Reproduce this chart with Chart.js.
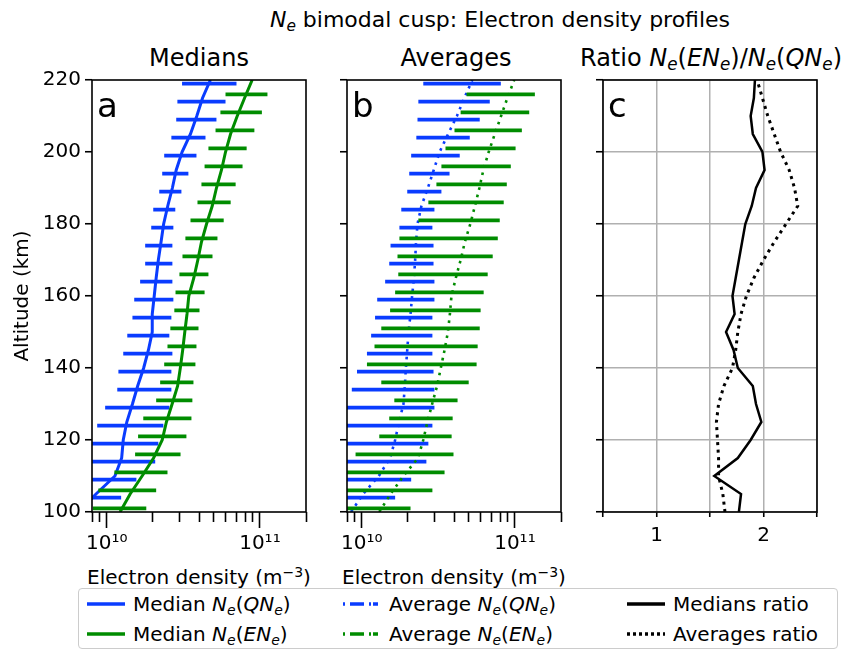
<!DOCTYPE html>
<html>
<head>
<meta charset="utf-8">
<script src="https://cdn.jsdelivr.net/npm/chart.js@4/dist/chart.umd.min.js"></script>
<style>
  body { margin: 0; background: #fff; font-family: "DejaVu Sans", sans-serif; color: #000; }
  #fig { position: relative; width: 849px; height: 654px; overflow: hidden; }
  canvas { position: absolute; }
  .txt { position: absolute; white-space: nowrap; text-align: center; }
  .ptitle { font-size: 24px; line-height: 28px; top: 44px; }
  sub { font-size: 0.7em; vertical-align: -0.25em; line-height: 0; }
  sup { font-size: 0.7em; vertical-align: 0.5em; line-height: 0; }
  #legend { position: absolute; left: 78px; top: 588px; width: 760px; height: 61px;
            border: 1px solid #ccc; border-radius: 4px; background: rgba(255,255,255,0.8); box-sizing: border-box; }
  .item { position: absolute; height: 24px; display: flex; align-items: center; font-size: 20px; white-space: nowrap; }
  .item svg { margin-right: 8px; }
</style>
</head>
<body>
<div id="fig">
  <div class="txt" style="left:500px;top:8px;transform:translateX(-50%);font-size:22px;line-height:24px;"><i>N<sub>e</sub></i> bimodal cusp: Electron density profiles</div>
  <div class="txt ptitle" style="left:199px;transform:translateX(-50%);">Medians</div>
  <div class="txt ptitle" style="left:456px;transform:translateX(-50%);">Averages</div>
  <div class="txt ptitle" style="left:711px;transform:translateX(-50%);">Ratio <i>N<sub>e</sub></i>(<i>EN<sub>e</sub></i>)/<i>N<sub>e</sub></i>(<i>QN<sub>e</sub></i>)</div>

  <canvas id="panelA" width="320" height="510" style="left:0;top:50px;"></canvas>
  <canvas id="panelB" width="260" height="510" style="left:320px;top:50px;"></canvas>
  <canvas id="panelC" width="269" height="510" style="left:580px;top:50px;"></canvas>

  <div class="txt" style="left:199px;top:565px;transform:translateX(-50%);font-size:20px;line-height:24px;">Electron density (m<sup>−3</sup>)</div>
  <div class="txt" style="left:454px;top:565px;transform:translateX(-50%);font-size:20px;line-height:24px;">Electron density (m<sup>−3</sup>)</div>

  <div id="legend"></div>
</div>

<script>
// altitude grid of the profiles (km)
const altitude = [100, 105, 110, 115, 120, 125, 130, 135, 140, 145, 150, 155, 160,
                  165, 170, 175, 180, 185, 190, 195, 200, 205, 210, 215, 220];
// altitudes where the spread bars are drawn (offset per population)
const barAltQN = [104, 109, 114, 119, 124, 129, 134, 139, 144, 149, 154, 159,
                  164, 169, 174, 179, 184, 189, 194, 199, 204, 209, 214, 219];
const barAltEN = [101, 106, 111, 116, 121, 126, 131, 136, 141, 146, 151, 156,
                  161, 166, 171, 176, 181, 186, 191, 196, 201, 206, 211, 216];

// medians (m^-3)
const medianQN = [6.5e9, 8.5e9, 1.13e10, 1.25e10, 1.28e10, 1.35e10, 1.47e10, 1.59e10, 1.74e10, 1.87e10,
                  1.98e10, 1.98e10, 2.04e10, 2.10e10, 2.17e10, 2.26e10, 2.35e10, 2.50e10, 2.68e10, 2.84e10,
                  3.10e10, 3.52e10, 3.87e10, 4.22e10, 4.75e10];
const medianEN = [1.22e10, 1.42e10, 1.70e10, 2.02e10, 2.30e10, 2.45e10, 2.67e10, 2.90e10, 3.02e10, 3.13e10,
                  3.23e10, 3.34e10, 3.43e10, 3.70e10, 3.93e10, 4.15e10, 4.48e10, 4.88e10, 5.20e10, 5.61e10,
                  5.96e10, 6.43e10, 7.11e10, 7.94e10, 8.9e10];
const medianQNLow  = [5e9, 5e9, 5e9, 6e9, 8.65e9, 9.75e9, 1.17e10, 1.19e10, 1.28e10, 1.36e10, 1.47e10, 1.51e10,
                      1.65e10, 1.78e10, 1.78e10, 1.95e10, 2.01e10, 2.20e10, 2.30e10, 2.37e10, 2.64e10, 2.84e10, 2.89e10, 3.10e10];
const medianQNHigh = [1.24e10, 1.56e10, 2.07e10, 2.17e10, 2.34e10, 2.56e10, 2.64e10, 2.64e10, 2.68e10, 2.56e10, 2.64e10, 2.72e10,
                      2.68e10, 2.68e10, 2.68e10, 2.72e10, 2.80e10, 3.07e10, 3.41e10, 3.85e10, 4.41e10, 5.20e10, 5.96e10, 7.03e10];
const medianENLow  = [8.1e9, 8.8e9, 1.12e10, 1.53e10, 1.60e10, 1.73e10, 2.10e10, 2.23e10, 2.37e10, 2.49e10, 2.60e10, 2.76e10,
                      2.81e10, 2.98e10, 3.12e10, 3.26e10, 3.52e10, 3.91e10, 4.15e10, 4.35e10, 4.61e10, 5.13e10, 5.52e10, 5.96e10];
const medianENHigh = [1.81e10, 2.10e10, 2.49e10, 3.03e10, 3.31e10, 3.57e10, 3.62e10, 3.68e10, 3.79e10, 3.85e10, 3.97e10, 4.03e10,
                      4.35e10, 4.61e10, 4.90e10, 5.28e10, 5.80e10, 6.44e10, 6.94e10, 7.7e10, 8.19e10, 9.2e10, 1.03e11, 1.12e11];

// averages (m^-3)
const averageQN = [8.5e9, 1.02e10, 1.29e10, 1.53e10, 1.65e10, 1.75e10, 1.87e10, 1.91e10, 1.94e10, 1.98e10,
                   2.02e10, 2.08e10, 2.13e10, 2.19e10, 2.23e10, 2.26e10, 2.31e10, 2.45e10, 2.70e10, 2.95e10,
                   3.22e10, 3.66e10, 4.18e10, 4.67e10, 5.27e10];
const averageEN = [1.30e10, 1.54e10, 1.87e10, 2.33e10, 2.52e10, 2.68e10, 2.88e10, 3.10e10, 3.28e10, 3.47e10,
                   3.65e10, 3.76e10, 3.85e10, 4.11e10, 4.42e10, 4.71e10, 5.11e10, 5.48e10, 5.86e10, 6.22e10,
                   6.74e10, 7.39e10, 8.12e10, 8.93e10, 9.9e10];
const averageQNLow  = [5e9, 5e9, 5e9, 5e9, 5e9, 6e9, 8.6e9, 9.3e9, 1.08e10, 1.15e10, 1.22e10, 1.26e10,
                       1.42e10, 1.51e10, 1.54e10, 1.76e10, 1.81e10, 1.98e10, 2.04e10, 2.10e10, 2.27e10, 2.31e10, 2.34e10, 2.52e10];
const averageQNHigh = [1.65e10, 2.10e10, 2.64e10, 2.72e10, 2.89e10, 2.98e10, 2.98e10, 2.94e10, 2.89e10, 2.89e10, 2.89e10, 2.98e10,
                       2.98e10, 2.94e10, 2.94e10, 2.89e10, 2.98e10, 3.31e10, 3.74e10, 4.36e10, 5.07e10, 5.89e10, 6.85e10, 8.09e10];
const averageENLow  = [7.5e9, 5e9, 5e9, 9.1e9, 1.30e10, 1.51e10, 1.63e10, 1.34e10, 1.08e10, 1.21e10, 1.34e10, 1.53e10,
                       1.65e10, 1.73e10, 1.71e10, 1.76e10, 2.34e10, 2.72e10, 3.07e10, 3.31e10, 3.52e10, 4.03e10, 4.42e10, 4.83e10];
const averageENHigh = [2.08e10, 2.89e10, 3.47e10, 3.97e10, 3.86e10, 3.92e10, 4.22e10, 4.99e10, 5.62e10, 5.71e10, 5.89e10, 5.97e10,
                       6.25e10, 6.64e10, 7.16e10, 7.73e10, 7.96e10, 8.45e10, 8.85e10, 9.4e10, 1.01e11, 1.11e11, 1.24e11, 1.35e11];

// ratio EN / QN
const ratioMedians  = [1.77, 1.79, 1.54, 1.76, 1.88, 1.98, 1.93, 1.90, 1.76, 1.72, 1.65, 1.73, 1.71,
                       1.74, 1.77, 1.80, 1.83, 1.89, 1.93, 2.01, 1.99, 1.90, 1.88, 1.91, 1.92];
const ratioAverages = [1.64, 1.62, 1.58, 1.58, 1.57, 1.56, 1.58, 1.63, 1.71, 1.74, 1.76, 1.79, 1.84,
                       1.91, 2.00, 2.10, 2.21, 2.32, 2.29, 2.24, 2.16, 2.10, 2.04, 1.99, 1.94];

// axis ticks
const densityTicks = [8e9, 9e9, 1e10, 2e10, 3e10, 4e10, 5e10, 6e10, 7e10, 8e10, 9e10, 1e11, 2e11];
const densityLabels = { 1e10: '10¹⁰', 1e11: '10¹¹' };
const altitudeTicks = [100, 120, 140, 160, 180, 200, 220];
const ratioTicks = [0.5, 1, 1.5, 2, 2.5];
const ratioLabels = { 1: '1', 2: '2' };

const BLUE = '#0a3cff';
const GREEN = '#008c00';

Chart.defaults.font.family = '"DejaVu Sans"';
Chart.defaults.font.size = 20;
Chart.defaults.color = '#000';

function profile(values) {
  return values.map((v, i) => ({ x: v, y: altitude[i] }));
}
function spread(low, high, alts) {
  const pts = [];
  alts.forEach((a, i) => { pts.push({ x: low[i], y: a }, { x: high[i], y: a }, { x: null, y: null }); });
  return pts;
}
function line(data, color, width, dash) {
  return { data, showLine: true, borderColor: color, borderWidth: width, borderDash: dash || [],
           pointRadius: 0, clip: 0, spanGaps: false, borderCapStyle: 'butt', tension: 0 };
}

const framePlugin = {
  id: 'panelFrame',
  afterDatasetsDraw(chart, args, opts) {
    const { ctx, chartArea: a } = chart;
    ctx.save();
    ctx.strokeStyle = '#000';
    ctx.lineWidth = 1.6;
    ctx.strokeRect(a.left, a.top, a.right - a.left, a.bottom - a.top);
    ctx.fillStyle = '#000';
    ctx.font = '34px "DejaVu Sans"';
    ctx.fillText(opts.letter, a.left + 5, a.top + 37);
    ctx.restore();
  }
};

function yAxis(width, showLabels, grid) {
  return {
    type: 'linear', min: 100, max: 220,
    afterBuildTicks: s => { s.ticks = altitudeTicks.map(v => ({ value: v })); },
    afterFit: s => { s.width = width; },
    border: { display: false },
    grid: { drawOnChartArea: !!grid, color: '#b0b0b0', lineWidth: 1.5,
            tickLength: 7, tickWidth: 1.6, tickColor: '#000' },
    ticks: { display: showLabels, padding: 4 },
    title: { display: showLabels, text: 'Altitude (km)', padding: { top: 11, bottom: 0 } }
  };
}

function densityChart(id, letter, left, right, datasets, yWidth, showY) {
  return new Chart(document.getElementById(id), {
    type: 'scatter',
    data: { datasets },
    options: {
      responsive: false, animation: false,
      layout: { padding: { left: 0, top: 30, right: right, bottom: 0 } },
      plugins: { legend: { display: false }, tooltip: { enabled: false }, panelFrame: { letter } },
      scales: {
        x: {
          type: 'logarithmic', min: 8e9, max: 2e11,
          afterBuildTicks: s => { s.ticks = densityTicks.map(v => ({ value: v, major: v in densityLabels })); },
          afterFit: s => { s.height = 48; },
          border: { display: false },
          grid: { drawOnChartArea: false, tickLength: 16, tickWidth: 1.6, tickColor: '#000',
                  tickBorderDash: c => (c.tick && densityLabels[c.tick.value]) ? [] : [10, 40] },
          ticks: { autoSkip: false, maxRotation: 0, padding: 4,
                   callback: v => densityLabels[v] || '' }
        },
        y: yAxis(yWidth, showY, false)
      }
    },
    plugins: [framePlugin]
  });
}

densityChart('panelA', 'a', 0, 14, [
  line(profile(medianEN), GREEN, 3),
  line(spread(medianENLow, medianENHigh, barAltEN), GREEN, 3.8),
  line(profile(medianQN), BLUE, 3),
  line(spread(medianQNLow, medianQNHigh, barAltQN), BLUE, 3.8)
], 92, true);

densityChart('panelB', 'b', 0, 19, [
  line(profile(averageEN), GREEN, 2.6, [2.6, 5]),
  line(spread(averageENLow, averageENHigh, barAltEN), GREEN, 3.8),
  line(profile(averageQN), BLUE, 2.6, [2.6, 5]),
  line(spread(averageQNLow, averageQNHigh, barAltQN), BLUE, 3.8)
], 27, false);

new Chart(document.getElementById('panelC'), {
  type: 'scatter',
  data: { datasets: [
    line(profile(ratioMedians), '#000', 2.5),
    line(profile(ratioAverages), '#000', 3, [3, 4.5])
  ] },
  options: {
    responsive: false, animation: false,
    layout: { padding: { left: 0, top: 30, right: 32, bottom: 0 } },
    plugins: { legend: { display: false }, tooltip: { enabled: false }, panelFrame: { letter: 'c' } },
    scales: {
      x: {
        type: 'linear', min: 0.5, max: 2.5,
        afterBuildTicks: s => { s.ticks = ratioTicks.map(v => ({ value: v })); },
        afterFit: s => { s.height = 48; },
        border: { display: false },
        grid: { color: '#b0b0b0', lineWidth: 1.5, tickLength: 5, tickWidth: 1.6, tickColor: '#000' },
        ticks: { autoSkip: false, maxRotation: 0, padding: 7, callback: v => ratioLabels[v] || '' }
      },
      y: yAxis(23, false, true)
    }
  },
  plugins: [framePlugin]
});

// legend
const legendItems = [
  { x: 87,  row: 0, color: BLUE,   dash: '',           html: 'Median <i>N<sub>e</sub></i>(<i>QN<sub>e</sub></i>)' },
  { x: 87,  row: 1, color: GREEN,  dash: '',           html: 'Median <i>N<sub>e</sub></i>(<i>EN<sub>e</sub></i>)' },
  { x: 343, row: 0, color: BLUE,   dash: '2 5 14 5 2', html: 'Average <i>N<sub>e</sub></i>(<i>QN<sub>e</sub></i>)' },
  { x: 343, row: 1, color: GREEN,  dash: '2 5 14 5 2', html: 'Average <i>N<sub>e</sub></i>(<i>EN<sub>e</sub></i>)' },
  { x: 627, row: 0, color: '#000', dash: '',           html: 'Medians ratio' },
  { x: 627, row: 1, color: '#000', dash: '3 3',        html: 'Averages ratio' }
];
const legend = document.getElementById('legend');
legendItems.forEach(it => {
  const d = document.createElement('div');
  d.className = 'item';
  d.style.left = (it.x - 79) + 'px';
  d.style.top = (it.row === 0 ? 604 - 12 : 634 - 12) - 589 + 'px';
  d.innerHTML = '<svg width="38" height="10"><line x1="0" y1="5" x2="38" y2="5" stroke="' + it.color +
    '" stroke-width="3.5" stroke-dasharray="' + it.dash + '"/></svg><span>' + it.html + '</span>';
  legend.appendChild(d);
});
</script>
</body>
</html>
